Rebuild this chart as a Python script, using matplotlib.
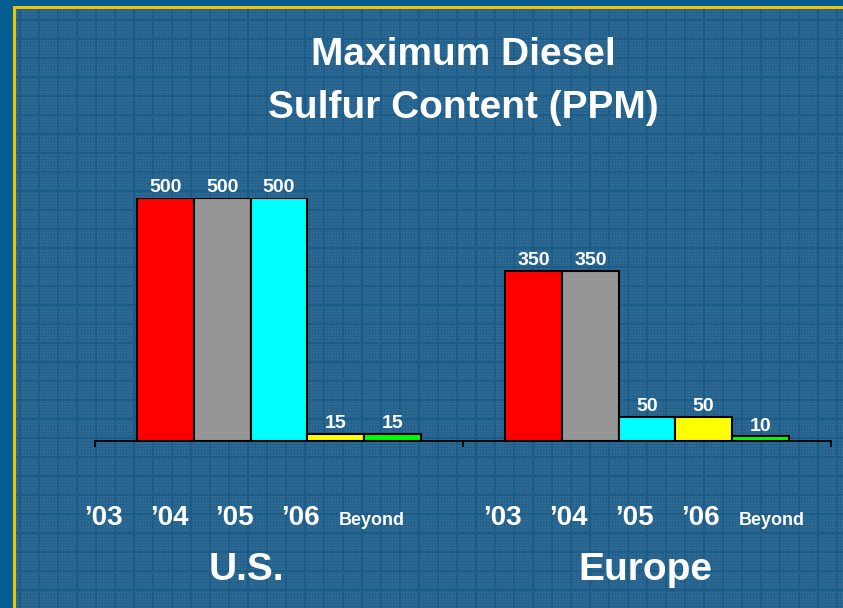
import numpy as np
import matplotlib.pyplot as plt

plt.rcParams['font.family'] = ['Liberation Sans', 'DejaVu Sans']

# data
regions = ['U.S.', 'Europe']
years = ['\u201903', '\u201904', '\u201905', '\u201906', 'Beyond']
us_ppm = [500, 500, 500, 15, 15]
eu_ppm = [350, 350, 50, 50, 10]
bar_colors = ['#ff0000', '#969696', '#00ffff', '#ffff00', '#00ff00']

# label x positions in pixels (the year labels are not centred under the bars)
us_label_px = [103, 169, 234, 300, 372]
eu_label_px = [502, 568, 634, 700, 772]
region_px = [246, 645]

W, H = 843, 608
fig = plt.figure(figsize=(W / 100, H / 100), dpi=100)

# plaid slide background
bg = fig.add_axes([0, 0, 1, 1])
yy, xx = np.mgrid[0:H, 0:W]
img = np.ones((H, W, 3)) * np.array([0x30, 0x69, 0x92]) / 255
img[(xx % 3 == 0) | (yy % 3 == 0)] = np.array([0x22, 0x62, 0x8c]) / 255
img[((xx % 19) < 2) | ((yy % 19) < 2)] = np.array([0x1b, 0x5d, 0x88]) / 255
img[:7, :] = np.array([0x05, 0x5a, 0x8b]) / 255
img[:, :13] = np.array([0x05, 0x5e, 0x92]) / 255
img[6:9, 13:] = np.array([0xf2, 0xc4, 0x00]) / 255
img[6:, 13:16] = np.array([0xf2, 0xc4, 0x00]) / 255
bg.imshow(img, extent=[0, W, H, 0], aspect='auto', interpolation='nearest')
bg.set_xlim(0, W)
bg.set_ylim(H, 0)
bg.axis('off')

# bar axes: baseline at y=441 px, 500 ppm at y=198 px
ax = fig.add_axes([95 / W, 1 - 441 / H, 736 / W, 243 / H])
ax.patch.set_alpha(0)
group_w = 6.5
for g, vals in enumerate([us_ppm, eu_ppm]):
    xs = g * group_w + 1.25 + np.arange(len(vals))
    ax.bar(xs, vals, width=1.0, color=bar_colors, edgecolor='black', linewidth=1.5, zorder=3)
    for x, v in zip(xs, vals):
        ax.annotate(str(v), (x, v), xytext=(0, 4), textcoords='offset points',
                    ha='center', va='baseline', color='white', fontsize=14,
                    fontweight='bold', annotation_clip=False)

ax.set_xlim(0, 2 * group_w)
ax.set_ylim(0, 500)
for s in ['top', 'right', 'left']:
    ax.spines[s].set_visible(False)
ax.spines['bottom'].set_color('black')
ax.spines['bottom'].set_linewidth(1.3)
ax.set_yticks([])
ax.set_xticks([0, group_w, 2 * group_w])
ax.set_xticklabels([])
ax.tick_params(axis='x', direction='out', length=4, width=1.3, color='black')

# year labels and region names
for px_list in [us_label_px, eu_label_px]:
    for px, lab in zip(px_list, years):
        size = 13 if lab == 'Beyond' else 20
        fig.text(px / W, 1 - 525 / H, lab, ha='center', va='baseline',
                 color='white', fontsize=size, fontweight='bold')
for px, name in zip(region_px, regions):
    fig.text(px / W, 1 - 580 / H, name, ha='center', va='baseline',
             color='white', fontsize=28, fontweight='bold')

fig.text(463 / W, 1 - 65 / H, 'Maximum Diesel', ha='center', va='baseline',
         color='white', fontsize=28, fontweight='bold')
fig.text(463 / W, 1 - 118 / H, 'Sulfur Content (PPM)', ha='center', va='baseline',
         color='white', fontsize=28, fontweight='bold')

fig.savefig('out.png', dpi=100)
